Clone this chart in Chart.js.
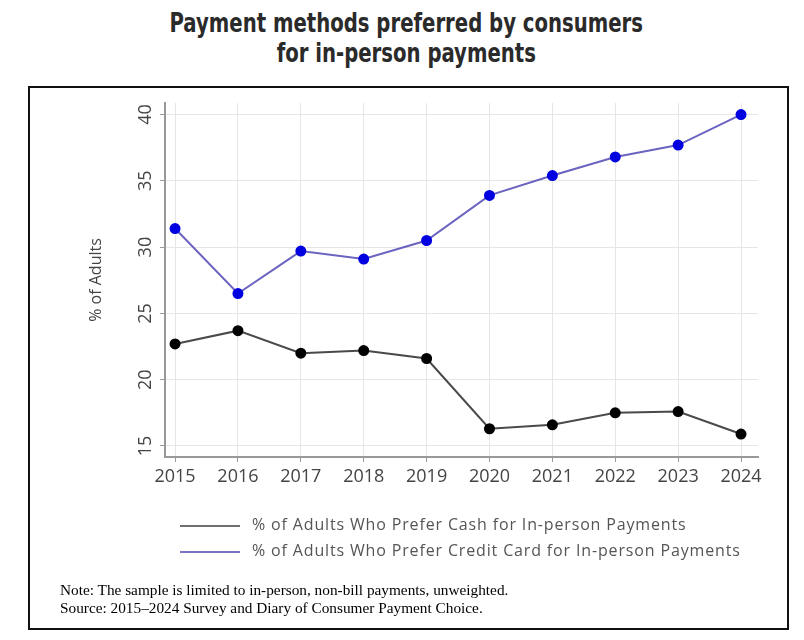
<!DOCTYPE html>
<html>
<head>
<meta charset="utf-8">
<script src="https://cdn.jsdelivr.net/npm/chart.js@4.4.1/dist/chart.umd.min.js"></script>
<style>
  html, body { margin: 0; padding: 0; background: #fff; }
  #page { position: relative; width: 804px; height: 640px; overflow: hidden; }
  #title {
    position: absolute; left: 0; top: 8px; width: 804px; text-align: center;
    font-family: "DejaVu Sans Condensed", "DejaVu Sans", sans-serif;
    font-weight: bold; font-size: 27px; line-height: 30px; color: #2a2a2a;
  }
  #title div { display: inline-block; transform: scaleX(0.81); transform-origin: center; position: relative; left: 4px; }
  #frame { position: absolute; left: 28px; top: 86px; width: 757px; height: 540px; border: 2px solid #111; }
  #chart { position: absolute; left: 0; top: 0; }
  .leg { position: absolute; left: 180px; font-family: "Open Sans", sans-serif; font-size: 16px; letter-spacing: 0.85px; color: #555; height: 20px; line-height: 20px; white-space: nowrap; }
  .leg span.swatch { display: inline-block; width: 60px; height: 2px; vertical-align: middle; margin-right: 12px; }
  .note { position: absolute; left: 60px; font-family: "Liberation Serif", serif; font-size: 15.3px; color: #000; white-space: nowrap; }
</style>
</head>
<body>
<div id="page">
  <div id="title"><div>Payment methods preferred by consumers<br>for in-person payments</div></div>
  <div id="frame"></div>
  <canvas id="chart" width="804" height="640"></canvas>
  <div class="leg" style="top:514px"><span class="swatch" style="background:#707070"></span>% of Adults Who Prefer Cash for In-person Payments</div>
  <div class="leg" style="top:540px"><span class="swatch" style="background:#7a74c4"></span>% of Adults Who Prefer Credit Card for In-person Payments</div>
  <div class="note" style="top:581px">Note: The sample is limited to in-person, non-bill payments, unweighted.</div>
  <div class="note" style="top:599px">Source: 2015&ndash;2024 Survey and Diary of Consumer Payment Choice.</div>
</div>
<script>
const years = [2015, 2016, 2017, 2018, 2019, 2020, 2021, 2022, 2023, 2024];
const cashShare = [22.7, 23.7, 22.0, 22.2, 21.6, 16.3, 16.6, 17.5, 17.6, 15.9];
const creditShare = [31.4, 26.5, 29.7, 29.1, 30.5, 33.9, 35.4, 36.8, 37.7, 40.0];
const yTicks = [15, 20, 25, 30, 35, 40];

function toPoints(values) {
    return years.map((yr, i) => ({ x: yr, y: values[i] }));
}

const ctx = document.getElementById('chart').getContext('2d');
new Chart(ctx, {
    type: 'line',
    data: {
        datasets: [{
            label: '% of Adults Who Prefer Cash for In-person Payments',
            data: toPoints(cashShare),
            borderColor: '#4a4a4a',
            backgroundColor: '#000',
            pointBackgroundColor: '#000',
            pointBorderColor: '#000',
            borderWidth: 2,
            pointRadius: 4.5,
            tension: 0
        }, {
            label: '% of Adults Who Prefer Credit Card for In-person Payments',
            data: toPoints(creditShare),
            borderColor: '#6a64c0',
            backgroundColor: '#0000e0',
            pointBackgroundColor: '#0000e0',
            pointBorderColor: '#0000e0',
            borderWidth: 2,
            pointRadius: 4.5,
            tension: 0
        }]
    },
    options: {
        responsive: false,
        animation: false,
        layout: { padding: { left: 84, right: 46, top: 103, bottom: 153 } },
        plugins: { legend: { display: false }, tooltip: { enabled: false } },
        scales: {
            x: {
                type: 'linear',
                min: 2014.84,
                max: 2024.27,
                afterBuildTicks: (scale) => { scale.ticks = years.map(v => ({ value: v })); },
                afterFit: (scale) => { scale.height = 30; },
                ticks: {
                    callback: (v) => String(v),
                    color: '#444',
                    font: { family: 'Open Sans', size: 18 },
                    padding: 4,
                    maxRotation: 0
                },
                grid: { color: '#e6e6e6', tickColor: '#999', tickLength: 5 },
                border: { color: '#999', width: 2 }
            },
            y: {
                min: 14.17,
                max: 40.87,
                afterBuildTicks: (scale) => { scale.ticks = yTicks.map(v => ({ value: v })); },
                afterFit: (scale) => { scale.width = 81; },
                ticks: {
                    color: '#444',
                    font: { family: 'Open Sans', size: 18 },
                    minRotation: 90,
                    maxRotation: 90,
                    crossAlign: 'center',
                    padding: 4
                },
                grid: { color: '#e6e6e6', tickColor: '#999', tickLength: 5 },
                border: { color: '#999', width: 2 },
                title: {
                    display: true,
                    text: '% of Adults',
                    color: '#444',
                    font: { family: 'Open Sans', size: 16 },
                    padding: { top: 3, bottom: 0 }
                }
            }
        }
    }
});
</script>
</body>
</html>
